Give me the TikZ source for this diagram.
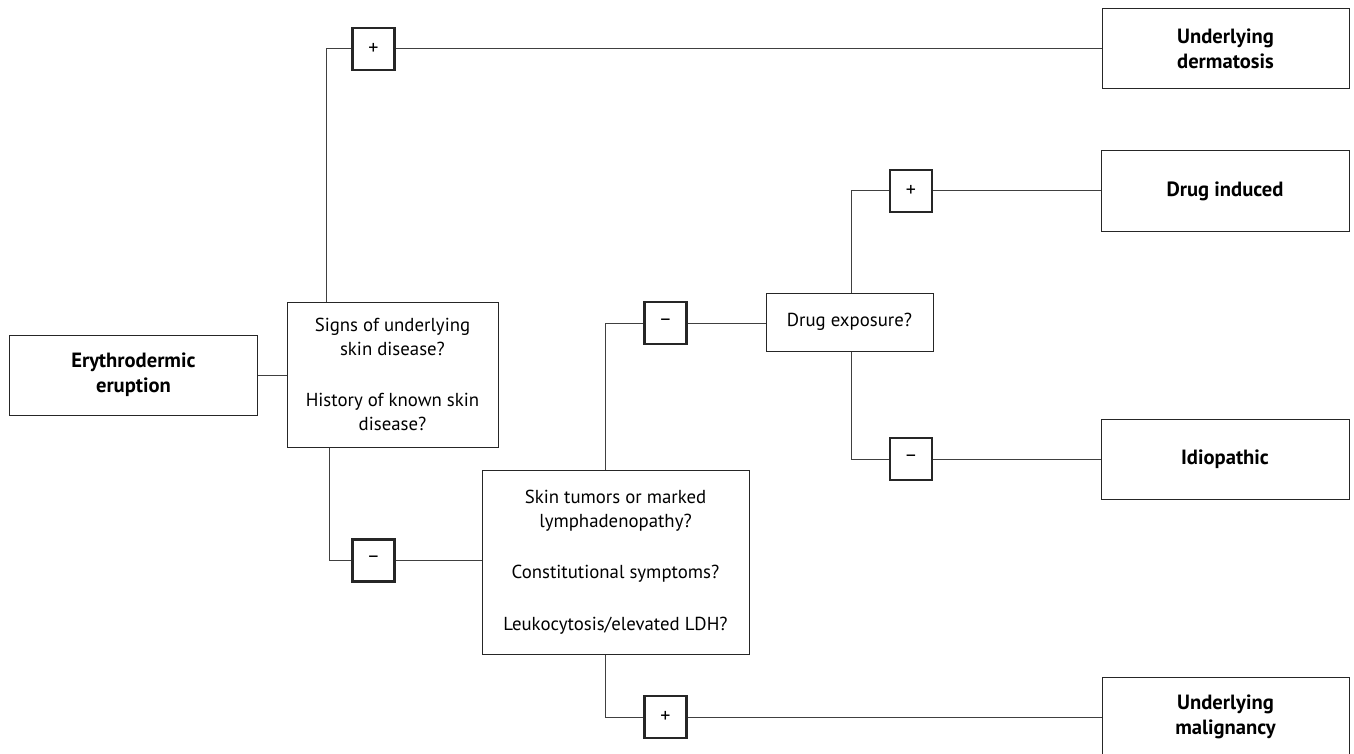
\documentclass[tikz,border=0pt]{standalone}
\usepackage{fontspec}
\setmainfont{PT Sans}
\begin{document}
\begin{tikzpicture}[x=1pt,y=-1pt,
  every node/.style={inner sep=0pt, align=center},
  box/.style={draw=black!85, line width=1pt, rectangle,
    font=\fontsize{18.8}{24}\selectfont},
  outcome/.style={box, font=\fontsize{20.6}{25}\bfseries\selectfont},
  sign/.style={draw=black!85, line width=2.3pt, rectangle,
    minimum width=42pt, minimum height=42pt, font=\fontsize{20}{20}\selectfont},
  link/.style={draw=black!75, line width=1pt}]
\useasboundingbox (0,0) rectangle (1354,754);
\clip (0,0) rectangle (1354,754);

% decision and outcome boxes
\node[outcome, minimum width=248pt, minimum height=80pt] (erup) at (133.5,375) {Erythrodermic\\eruption};
\node[box, minimum width=211pt, minimum height=145pt] (signs) at (392.5,374.5)
  {Signs of underlying\\skin disease?\\[27pt]History of known skin\\disease?};
\node[box, minimum width=267pt, minimum height=184pt] (tum) at (615.5,562)
  {Skin tumors or marked\\lymphadenopathy?\\[27pt]Constitutional symptoms?\\[28pt]Leukocytosis/elevated LDH?};
\node[box, minimum width=167pt, minimum height=58pt] (drug) at (849.5,322) {Drug exposure?};
\node[outcome, minimum width=247pt, minimum height=80pt] (derm) at (1225.5,49) {Underlying\\dermatosis};
\node[outcome, minimum width=248pt, minimum height=80pt] (dind) at (1225,191) {Drug induced};
\node[outcome, minimum width=248pt, minimum height=80pt] (idio) at (1225,459) {Idiopathic};
\node[outcome, minimum width=247pt, minimum height=80pt] (malig) at (1225.5,717) {Underlying\\malignancy};

% plus / minus answer boxes
\node[sign] (p1) at (373.5,49) {+};
\node[sign] (m1) at (373.5,560.5) {\raisebox{0.2ex}{--}};
\node[sign] (m2) at (665.5,323) {\raisebox{0.2ex}{--}};
\node[sign] (p2) at (665.5,717) {+};
\node[sign] (p3) at (911,191) {+};
\node[sign] (m3) at (911,459) {\raisebox{0.2ex}{--}};

% branch points of the connectors
\coordinate (jtop) at (326,0);
\coordinate (jbot) at (329,0);
\coordinate (jtum) at (605,0);
\coordinate (jdrug) at (851,0);

% connectors
\draw[link] (erup.east) -- (erup.east -| signs.west);
\draw[link] (jtop |- signs.north) |- (p1.west);
\draw[link] (p1.east) -- (derm.west);
\draw[link] (jbot |- signs.south) |- (m1.west);
\draw[link] (m1.east) -- (m1.east -| tum.west);
\draw[link] (jtum |- tum.north) |- (m2.west);
\draw[link] (m2.east) -- (m2.east -| drug.west);
\draw[link] (jtum |- tum.south) |- (p2.west);
\draw[link] (p2.east) -- (malig.west);
\draw[link] (jdrug |- drug.north) |- (p3.west);
\draw[link] (p3.east) -- (dind.west);
\draw[link] (jdrug |- drug.south) |- (m3.west);
\draw[link] (m3.east) -- (idio.west);
\end{tikzpicture}
\end{document}
